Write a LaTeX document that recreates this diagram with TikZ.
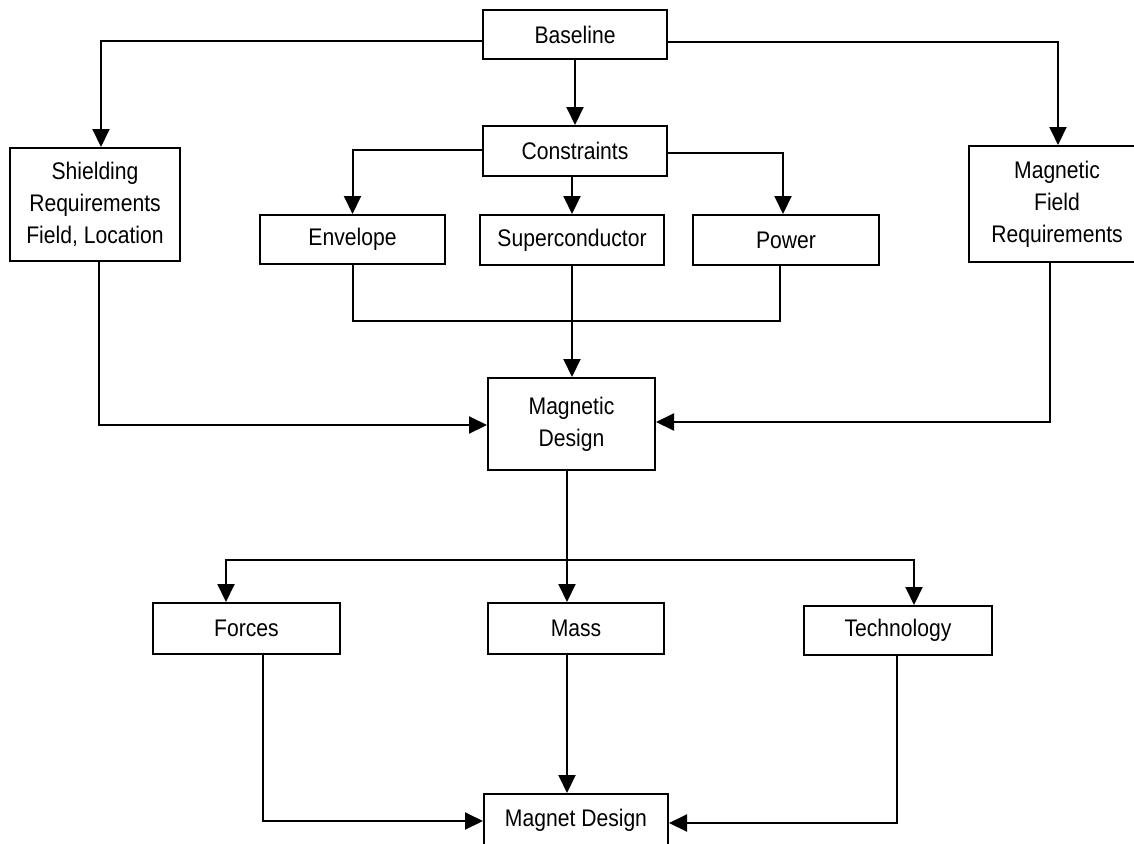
\documentclass[tikz,border=0pt]{standalone}
\usepackage{fontspec}
\setmainfont{Liberation Sans}[FakeStretch=0.88]
\usetikzlibrary{arrows.meta}
\begin{document}
\begin{tikzpicture}[x=1pt,y=-1pt,
  box/.style={draw, line width=2pt, inner sep=0pt, align=center,
    font=\fontsize{24}{32}\selectfont},
  link/.style={line width=2pt},
  arr/.style={line width=2pt, -{Triangle[length=18pt,width=17pt]}}]
\useasboundingbox (0,0) rectangle (1134,843);

% top level
\node[box, minimum width=184pt, minimum height=49pt] (base) at (575,34.5) {Baseline};
\node[box, minimum width=184pt, minimum height=50pt] (cons) at (575,151) {Constraints};

% second level
\node[box, minimum width=170pt, minimum height=113pt] (shield) at (95,204.5)
  {Shielding\\Requirements\\Field, Location};
\node[box, minimum width=185pt, minimum height=49pt] (env) at (352.5,239.5) {Envelope};
\node[box, minimum width=184pt, minimum height=50pt] (sup) at (572,240) {Superconductor};
\node[box, minimum width=186pt, minimum height=50pt] (pow) at (786,240) {Power};
\node[box, minimum width=176pt, minimum height=116pt] (magf) at (1057,204)
  {Magnetic\\Field\\Requirements};

% design
\node[box, minimum width=167pt, minimum height=92pt] (mdes) at (571.5,424)
  {Magnetic\\Design};

% third level
\node[box, minimum width=187pt, minimum height=51pt] (forces) at (246.5,628.5) {Forces};
\node[box, minimum width=176pt, minimum height=51pt] (mass) at (576,628.5) {Mass};
\node[box, minimum width=188pt, minimum height=49pt] (tech) at (898,630.5) {Technology};

% result
\node[box, minimum width=184pt, minimum height=52pt] (mag) at (576,820) {Magnet Design};

% junction points
\coordinate (junc) at (573,321);
\coordinate (dist) at (567,560);

% baseline fan-out
\draw[arr] ([yshift=-7pt]base.west) -| ([xshift=6pt]shield.north);
\draw[arr] ([yshift=-7.5pt]base.east) -| ([xshift=1pt]magf.north);
\draw[arr] (base.south) -- (cons.north);

% constraints fan-out
\draw[arr] ([yshift=1pt]cons.west) -| (env.north);
\draw[arr] ([yshift=-2pt]cons.east) -| ([xshift=-3pt]pow.north);
\draw[arr] (sup.north |- cons.south) -- (sup.north);

% constraints collector
\draw[link] (env.south) |- (junc) -| ([xshift=-6pt]pow.south);
\draw[arr] (sup.south) -- (mdes.north -| sup.south);

% requirements into design
\draw[arr] ([xshift=4pt]shield.south) |- ([yshift=-1pt]mdes.west);
\draw[arr] ([xshift=-7pt]magf.south) |- ([yshift=2pt]mdes.east);

% design fan-out
\draw[link] (mdes.south -| dist) -- (dist);
\draw[arr] (dist) -| ([xshift=-20.5pt]forces.north);
\draw[arr] (dist) -| ([xshift=16pt]tech.north);
\draw[arr] (dist) -- (mass.north -| dist);

% into magnet design
\draw[arr] ([xshift=16.5pt]forces.south) |- ([yshift=-1pt]mag.west);
\draw[arr] (mass.south -| dist) -- (mag.north -| dist);
\draw[arr] ([xshift=-1pt]tech.south) |- ([yshift=-3pt]mag.east);
\end{tikzpicture}
\end{document}
